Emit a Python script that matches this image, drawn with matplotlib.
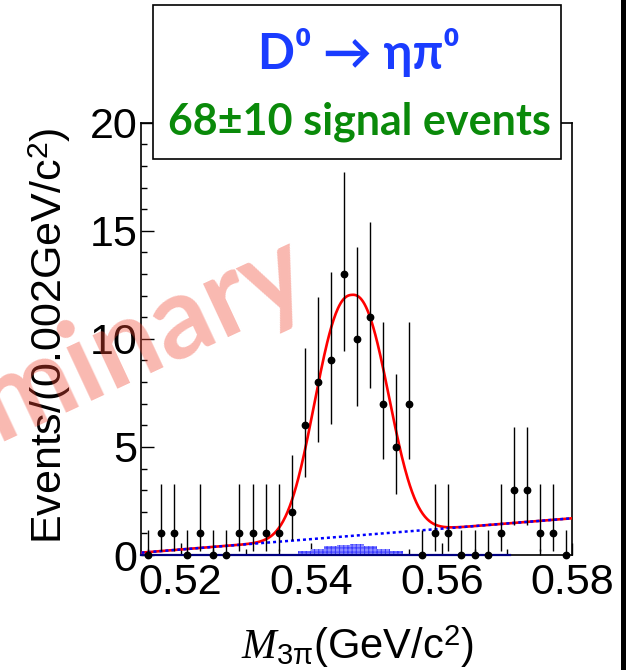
import numpy as np
import matplotlib
matplotlib.use("Agg")
import matplotlib.pyplot as plt
from matplotlib.patches import Rectangle
from matplotlib.ticker import MultipleLocator

# ---------------- data ----------------
bin_lo = 0.514
bin_w = 0.002
counts = [0, 1, 1, 0, 1, 0, 0, 1, 1, 1, 1, 2, 6, 8, 9, 13, 10, 11, 7, 5, 7,
          0, 1, 1, 0, 0, 0, 1, 3, 3, 1, 1, 0]
# Poisson (68%) interval bounds per observed count
pois_lo = {0: 0.0, 1: 0.17, 2: 0.71, 3: 1.37, 5: 2.84, 6: 3.62, 7: 4.42,
           8: 5.23, 9: 6.06, 10: 6.89, 11: 7.73, 13: 9.44}
pois_hi = {0: 1.15, 1: 3.30, 2: 4.64, 3: 5.92, 5: 8.38, 6: 9.58, 7: 10.77,
           8: 11.95, 9: 13.11, 10: 14.27, 11: 15.42, 13: 17.70}

# peaking-background histogram (hatched blue)
peak_edges = [0.534, 0.536, 0.538, 0.540, 0.542, 0.544, 0.546, 0.548,
              0.550, 0.552, 0.554, 0.556, 0.558]
peak_vals = [0.03, 0.04, 0.18, 0.28, 0.42, 0.48, 0.52, 0.42, 0.28, 0.18,
             0.05, 0.03]

# fit parameters
sig_amp, sig_mu, sig_s, sig_p = 11.15, 0.5462, 0.0072, 2.4
bkg_a, bkg_b = 0.11, 24.1   # bkg = a + b*(x - 0.514)

x_range = (0.514, 0.580)
y_range = (0.0, 20.0)
xticks = [0.52, 0.54, 0.56, 0.58]
yticks = [0, 5, 10, 15, 20]

# ---------------- style ----------------
plt.rcParams['font.family'] = ['Liberation Sans', 'DejaVu Sans']
plt.rcParams['mathtext.fontset'] = 'custom'
plt.rcParams['mathtext.rm'] = 'Liberation Sans'
plt.rcParams['mathtext.it'] = 'Liberation Serif:italic'
plt.rcParams['mathtext.bf'] = 'Liberation Sans:bold'
plt.rcParams['hatch.linewidth'] = 0.7

fig = plt.figure(figsize=(6.3, 6.7), dpi=100)
ax = fig.add_axes([0.2246, 0.1716, 0.6841, 0.6453])

centers = np.array([bin_lo + bin_w * (i + 0.5) for i in range(len(counts))])
cnt = np.array(counts, dtype=float)
lo = np.array([pois_lo[c] for c in counts])
hi = np.array([pois_hi[c] for c in counts])

# peaking background histogram
ax.stairs(peak_vals, peak_edges, fill=True, facecolor='#8c8cff',
          edgecolor='#3838ff', hatch='++++', linewidth=0, zorder=2)
ax.plot([0.514, 0.5705], [0.0, 0.0], color='#000080', lw=1.6, zorder=3,
        clip_on=False)

# fit curves
xf = np.linspace(x_range[0], x_range[1], 600)
bkg = bkg_a + bkg_b * (xf - x_range[0])
sig = sig_amp * np.exp(-(np.abs(xf - sig_mu) / sig_s) ** sig_p)
ax.plot(xf, sig + bkg, color='red', lw=1.9, zorder=4)
ax.plot(xf, bkg, color='blue', lw=1.8, ls=(0, (1.2, 1.2)), zorder=5)

# data points
ax.vlines(centers, lo, hi, color='black', lw=1.0, zorder=6)
ax.plot(centers, cnt, 'o', color='black', ms=4.6, zorder=7, clip_on=False)

ax.set_xlim(*x_range)
ax.set_ylim(*y_range)
ax.set_xticks(xticks)
ax.set_xticklabels(['%.2f' % v for v in xticks])
ax.set_yticks(yticks)
ax.xaxis.set_minor_locator(MultipleLocator(0.005))
ax.yaxis.set_minor_locator(MultipleLocator(1))
ax.tick_params(which='both', direction='in', top=False, right=False,
               width=1.0, labelsize=31)
ax.tick_params(which='major', length=9)
ax.tick_params(which='minor', length=4.5)
ax.tick_params(axis='x', pad=6)
ax.tick_params(axis='y', pad=3)
for sp in ax.spines.values():
    sp.set_linewidth(1.2)

fig.text(0.079, 0.4993, 'Events/(0.002GeV/c$^{2}$)', rotation=90,
         ha='center', va='center', fontsize=31)
fig.text(0.567, 0.016, r'$M_{\mathrm{3\pi}}$(GeV/c$^{2}$)', ha='center',
         va='baseline', fontsize=30)

# title box
box = Rectangle((0.2429, 0.7627), 0.6476, 0.2298, transform=fig.transFigure,
                facecolor='white', edgecolor='black', lw=1.2, zorder=10)
fig.patches.append(box)
bfam = ['Lato', 'Noto Sans', 'DejaVu Sans']
fig.text(0.570, 0.921, 'D\u2070 \u2192 \u03b7\u03c0\u2070', ha='center',
         va='center', fontsize=35, fontweight='bold', color='#1a3cff',
         family=bfam, zorder=11)
fig.text(0.570, 0.818, '68\u00b110 signal events', ha='center', va='center',
         fontsize=31, fontweight='bold', color='#0a8a0a', family=bfam,
         zorder=11)

# watermark
fig.text(0.500, 0.563, 'Preliminary', rotation=25, rotation_mode='anchor',
         ha='right', va='baseline', fontsize=82, fontweight='bold',
         color='#f04632', alpha=0.38, family=bfam, zorder=20)

# right thick bar
fig.patches.append(Rectangle((0.9857, 0.0), 0.008, 1.0,
                             transform=fig.transFigure, facecolor='black',
                             edgecolor='none', zorder=12))

fig.savefig('out.png', dpi=100)
